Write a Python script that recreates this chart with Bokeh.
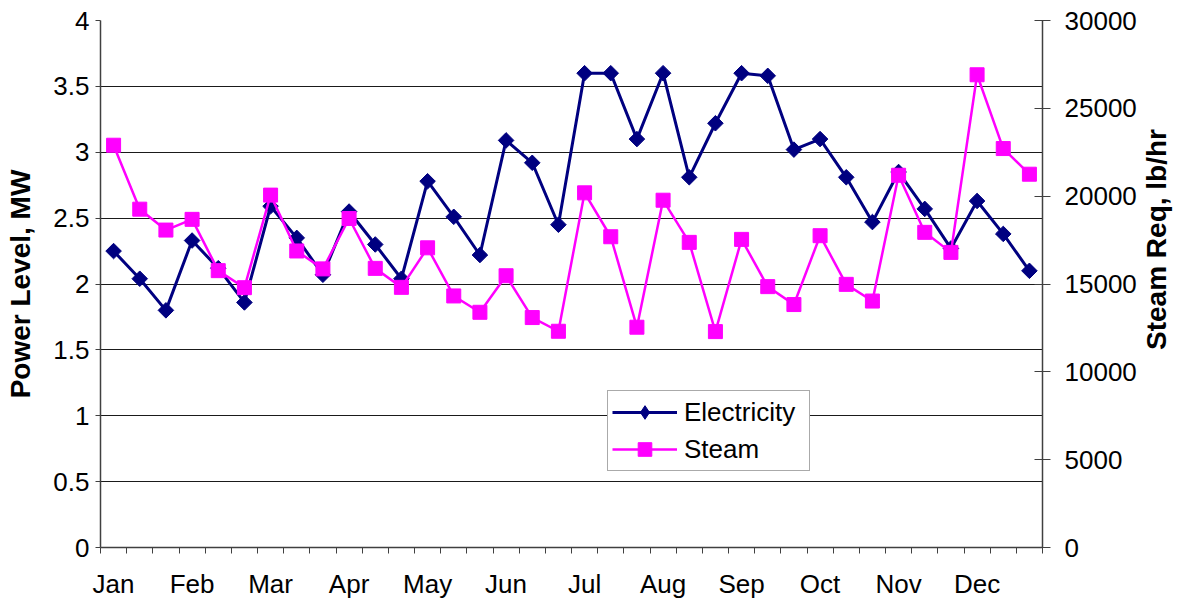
import numpy as np
from bokeh.plotting import figure
from bokeh.layouts import row
from bokeh.models import Range1d, LinearAxis, FixedTicker, Legend, LegendItem, Label
from bokeh.embed import file_html
from bokeh.resources import INLINE

# ---------------- data ----------------
months = ["Jan", "Feb", "Mar", "Apr", "May", "Jun",
          "Jul", "Aug", "Sep", "Oct", "Nov", "Dec"]
periods_per_month = 3

electricity_mw = [2.25, 2.04, 1.80, 2.33, 2.12, 1.86,
                  2.59, 2.35, 2.07, 2.55, 2.30, 2.04,
                  2.78, 2.51, 2.22, 3.09, 2.92, 2.45,
                  3.60, 3.60, 3.10, 3.60, 2.81, 3.22,
                  3.60, 3.58, 3.02, 3.10, 2.81, 2.47,
                  2.85, 2.57, 2.27, 2.63, 2.38, 2.10]

steam_lbhr = [22900, 19260, 18070, 18680, 15760, 14790,
              20060, 16880, 15860, 18730, 15890, 14810,
              17060, 14320, 13390, 15470, 13090, 12310,
              20190, 17690, 12540, 19770, 17370, 12290,
              17540, 14850, 13830, 17750, 14980, 14030,
              21190, 17940, 16800, 26910, 22710, 21250]

left_ticks = [0, 0.5, 1, 1.5, 2, 2.5, 3, 3.5, 4]
left_tick_labels = ["0", "0.5", "1", "1.5", "2", "2.5", "3", "3.5", "4"]
right_ticks = [0, 5000, 10000, 15000, 20000, 25000, 30000]
right_tick_labels = ["0", "5000", "10000", "15000", "20000", "25000", "30000"]

# ---------------- figure ----------------
FONT = "Liberation Sans"
TICK_SIZE = "26px"
TITLE_SIZE = "28px"

n = len(electricity_mw)
x = np.arange(n) + 0.5

p = figure(width=1139, height=601, output_backend="svg", toolbar_location=None,
           x_range=Range1d(0, n), y_range=Range1d(0, 4),
           min_border_left=100, min_border_right=97,
           min_border_top=20, min_border_bottom=53)
p.outline_line_color = None
p.background_fill_color = "white"
p.border_fill_color = "white"
p.extra_y_ranges = {"steam": Range1d(0, 30000)}

# grid
p.xgrid.visible = False
p.ygrid.ticker = FixedTicker(ticks=left_ticks)
p.ygrid.grid_line_color = "#1a1a1a"
p.ygrid.grid_line_width = 1

# x axis
month_pos = [i * periods_per_month + 0.5 for i in range(len(months))]
xa = p.xaxis[0]
xa.ticker = FixedTicker(ticks=month_pos, minor_ticks=list(range(0, n + 1)))
xa.major_label_overrides = {pos: m for pos, m in zip(month_pos, months)}
xa.major_tick_in = 0
xa.major_tick_out = 0
xa.minor_tick_in = 0
xa.minor_tick_out = 6
xa.minor_tick_line_color = "#404040"
xa.axis_line_color = "#404040"
xa.axis_line_width = 1.5
xa.major_label_text_font = FONT
xa.major_label_text_font_size = TICK_SIZE
xa.major_label_text_color = "black"
xa.major_label_standoff = 15

# left axis
ya = p.yaxis[0]
ya.ticker = FixedTicker(ticks=left_ticks)
ya.major_label_overrides = {t: s for t, s in zip(left_ticks, left_tick_labels)}
ya.minor_tick_line_color = None
ya.major_tick_in = 0
ya.major_tick_out = 5
ya.major_tick_line_color = "#404040"
ya.axis_line_color = "#404040"
ya.axis_line_width = 1.5
ya.major_label_text_font = FONT
ya.major_label_text_font_size = TICK_SIZE
ya.major_label_text_color = "black"
ya.major_label_standoff = 6
ya.axis_label = "Power Level, MW"
ya.axis_label_text_font = FONT
ya.axis_label_text_font_size = TITLE_SIZE
ya.axis_label_text_font_style = "bold"
ya.axis_label_text_color = "black"
ya.axis_label_standoff = 14

# right axis
ra = LinearAxis(y_range_name="steam", ticker=FixedTicker(ticks=right_ticks))
ra.major_label_overrides = {t: s for t, s in zip(right_ticks, right_tick_labels)}
ra.minor_tick_line_color = None
ra.major_tick_in = 8
ra.major_tick_out = 8
ra.major_tick_line_color = "#404040"
ra.axis_line_color = "#404040"
ra.axis_line_width = 1.5
ra.major_label_text_font = FONT
ra.major_label_text_font_size = TICK_SIZE
ra.major_label_text_color = "black"
ra.major_label_standoff = 14
p.add_layout(ra, "right")

# series
NAVY = "#000080"
MAGENTA = "#FF00FF"
el_line = p.line(x, electricity_mw, line_color=NAVY, line_width=3)
# diamond key for the legend (hidden under the plotted diamonds)
el_key = p.scatter(x, electricity_mw, marker="diamond", size=10,
                   fill_color=NAVY, line_color=NAVY)
el_pts = p.scatter(x, electricity_mw, marker="square", angle=np.pi / 4, size=11,
                   fill_color=NAVY, line_color=NAVY)
st_line = p.line(x, steam_lbhr, y_range_name="steam", line_color=MAGENTA, line_width=2.5)
st_pts = p.scatter(x, steam_lbhr, y_range_name="steam", marker="square", size=14,
                   fill_color=MAGENTA, line_color=MAGENTA)

legend = Legend(items=[LegendItem(label="Electricity", renderers=[el_line, el_key]),
                       LegendItem(label="Steam", renderers=[st_line, st_pts])],
                location=(507, 76))
legend.label_text_font = FONT
legend.label_text_font_size = "26px"
legend.label_text_color = "black"
legend.glyph_width = 65
legend.glyph_height = 34
legend.label_height = 34
legend.label_width = 121
legend.label_standoff = 7
legend.spacing = 3
legend.padding = 4
legend.margin = 0
legend.border_line_color = "#555555"
legend.border_line_width = 1
legend.background_fill_color = "white"
legend.background_fill_alpha = 1
p.add_layout(legend)

# narrow strip on the right carrying the right-axis title, reading bottom-to-top
side = figure(width=40, height=601, output_backend="svg", toolbar_location=None,
              x_range=Range1d(0, 1), y_range=Range1d(0, 1),
              x_axis_location=None, y_axis_location=None, min_border=0)
side.grid.visible = False
side.outline_line_color = None
side.background_fill_color = "white"
side.border_fill_color = "white"
side.add_layout(Label(x=17, y=308, x_units="screen", y_units="screen",
                      text="Steam Req, lb/hr", angle=np.pi / 2,
                      text_align="center", text_baseline="middle",
                      text_font=FONT, text_font_size=TITLE_SIZE,
                      text_font_style="bold", text_color="black"))

layout = row(p, side, spacing=0)
open("out.html", "w").write(file_html(layout, INLINE))
